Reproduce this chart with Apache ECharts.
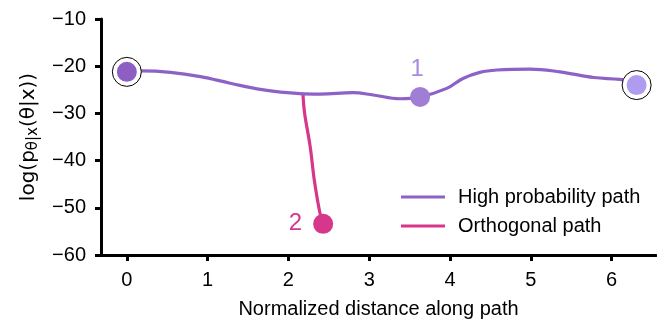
<!DOCTYPE html>
<html>
<head>
<meta charset="utf-8">
<script src="https://cdn.jsdelivr.net/npm/echarts@6/dist/echarts.min.js"></script>
<style>
html,body{margin:0;padding:0;background:#fff;}
#chart{width:657px;height:320px;}
</style>
</head>
<body>
<div id="chart"></div>
<script>
// High probability path (normalized distance, log posterior)
const highX = [0, 0.17, 0.54, 0.91, 1.28, 1.65, 2.14, 2.39, 2.80, 3.05, 3.38, 3.63, 3.96, 4.16, 4.37, 4.58, 4.99, 5.36, 5.78, 6.10, 6.31];
const highY = [-21.2, -21.0, -21.3, -22.2, -23.6, -24.9, -25.8, -25.9, -25.6, -26.1, -26.9, -26.5, -24.7, -22.6, -21.3, -20.8, -20.6, -21.2, -22.4, -22.8, -23.4];
// Orthogonal path
const orthoX = [2.18, 2.20, 2.27, 2.32, 2.39, 2.43];
const orthoY = [-25.8, -29.9, -37.1, -44.1, -51.1, -53.4];
// Highlighted points
const endX = [0, 6.31];
const endY = [-21.2, -24.0];
const pointX = [0, 3.63, 6.31, 2.43];
const pointY = [-21.2, -26.5, -24.0, -53.4];
const pointLabels = ['', '1', '', '2'];
// Ticks
const xTicks = [0, 1, 2, 3, 4, 5, 6];
const yTicks = [-60, -50, -40, -30, -20, -10];
const seriesNames = ['High probability path', 'Orthogonal path'];

const FONT = "'Liberation Sans', Arial, sans-serif";
const MATHFONT = "'DejaVu Sans', sans-serif";
const pointColors = ['#8e5fc3', '#a07ed6', '#b09cee', '#d6378a'];
const labelColors = ['#000', '#a88be0', '#000', '#d6378a'];
const labelPos = [null, {position: 'top', distance: 6, offset: [-3, 0]}, null, {position: 'left', distance: 11}];

const zip = (a, b) => a.map((v, i) => [v, b[i]]);
const minus = v => (v < 0 ? '\u2212' + Math.abs(v) : String(v));

const chart = echarts.init(document.getElementById('chart'), null, {renderer: 'canvas'});
chart.setOption({
  animation: false,
  backgroundColor: '#fff',
  textStyle: {fontFamily: FONT},
  grid: {left: 101, right: 1, top: 19, bottom: 65, containLabel: false, outerBoundsMode: 'none'},
  legend: {
    data: seriesNames,
    orient: 'vertical',
    left: 396,
    top: 181,
    icon: 'rect',
    itemWidth: 44,
    itemHeight: 3,
    itemGap: 7,
    textStyle: {fontSize: 20, color: '#000', fontFamily: FONT, lineHeight: 22, padding: [0, 0, 0, 8]}
  },
  xAxis: {
    type: 'value',
    min: -0.32,
    max: 6.55,
    name: 'Normalized distance along path',
    nameLocation: 'middle',
    nameGap: 44,
    nameTextStyle: {fontSize: 20, color: '#000', fontFamily: FONT},
    axisLine: {show: true, onZero: false, lineStyle: {color: '#000', width: 3}},
    axisTick: {show: true, length: 6, customValues: xTicks, lineStyle: {color: '#000', width: 3}},
    axisLabel: {fontSize: 20, color: '#000', margin: 15, customValues: xTicks, formatter: minus},
    splitLine: {show: false}
  },
  yAxis: {
    type: 'value',
    min: -60,
    max: -10,
    interval: 10,
    name: 'log(p{sub|θ|x}(θ|x))',
    nameLocation: 'middle',
    nameRotate: 90,
    nameGap: 61,
    nameTextStyle: {
      fontSize: 20, color: '#000', fontFamily: MATHFONT, lineHeight: 23,
      rich: {sub: {fontSize: 15, lineHeight: 15, padding: [9, 0, 0, 0], color: '#000', fontFamily: MATHFONT}}
    },
    axisLine: {show: true, onZero: false, lineStyle: {color: '#000', width: 3}},
    axisTick: {show: true, length: 6, lineStyle: {color: '#000', width: 3}},
    axisLabel: {fontSize: 20, color: '#000', margin: 15, formatter: minus},
    splitLine: {show: false}
  },
  series: [
    {
      name: seriesNames[1],
      type: 'line',
      data: zip(orthoX, orthoY),
      smooth: 0.4,
      showSymbol: false,
      symbol: 'none',
      lineStyle: {color: '#d6378a', width: 3.2},
      itemStyle: {color: '#d6378a'},
      z: 2
    },
    {
      name: seriesNames[0],
      type: 'line',
      data: zip(highX, highY),
      smooth: 0.4,
      showSymbol: false,
      symbol: 'none',
      lineStyle: {color: '#8c62c6', width: 3.2},
      itemStyle: {color: '#8c62c6'},
      z: 3
    },
    {
      name: 'rings',
      type: 'scatter',
      data: zip(endX, endY),
      symbol: 'circle',
      symbolSize: 29,
      silent: true,
      itemStyle: {color: '#fff', borderColor: '#000', borderWidth: 1, opacity: 1},
      z: 4
    },
    {
      name: 'points',
      type: 'scatter',
      symbol: 'circle',
      symbolSize: 20,
      silent: true,
      z: 5,
      data: pointX.map((x, i) => {
        const item = {value: [x, pointY[i]], itemStyle: {color: pointColors[i], opacity: 1}};
        if (pointLabels[i]) {
          item.label = Object.assign({
            show: true,
            formatter: pointLabels[i],
            fontSize: 24,
            color: labelColors[i],
            fontFamily: FONT
          }, labelPos[i]);
        }
        return item;
      })
    }
  ]
});
</script>
</body>
</html>
